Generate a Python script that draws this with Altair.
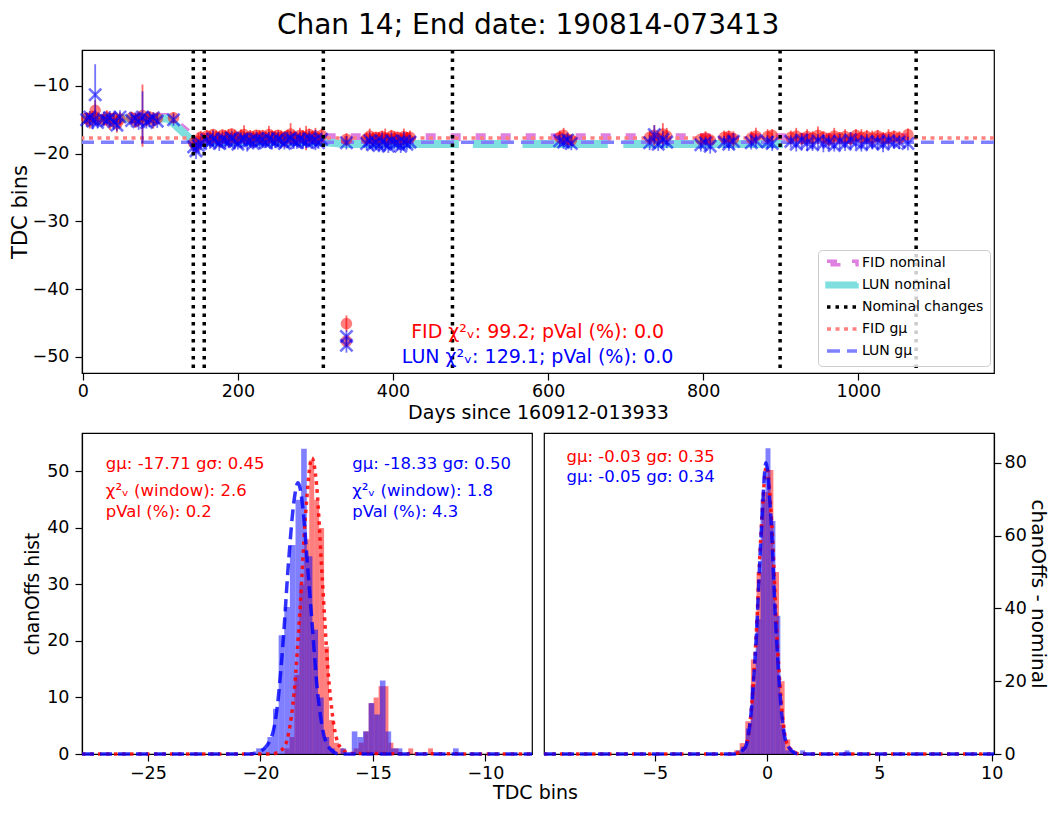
import altair as alt
import pandas as pd

FONT = "DejaVu Sans"

# ------------------------------------------------------------------ top panel data
days = [
    5, 9, 13, 16, 19,
    27, 31, 35, 40, 44, 48,
    63, 68, 72, 77, 82, 86, 91, 96,
    117,
    143, 146, 149, 152,
    160, 164, 168, 172, 176, 180, 184, 188, 192, 196, 200, 204, 208, 212, 216,
    220, 224, 228, 232, 236, 240, 244, 248, 252, 256, 260, 264, 268, 272, 276,
    280, 284, 288, 292, 296, 300, 304, 308,
    340, 340, 340,
    366, 370, 374, 378, 382, 386, 390, 394, 398, 402, 406, 410, 414, 418, 422,
    615, 620, 625, 630,
    731, 737, 742, 748, 753,
    797, 803, 809,
    827, 833, 839,
    862, 868,
    883, 889,
    913, 920, 927, 934, 941, 948, 955, 962, 969, 976, 983, 990, 997, 1004,
    1011, 1018, 1025, 1032, 1039, 1046, 1053,
    1064,
]
fid_vals = [
    -14.8, -15.2, -14.5, -13.6, -14.9,
    -15.0, -14.6, -15.3, -14.8, -15.6, -14.9,
    -14.7, -15.2, -14.9, -14.4, -15.0, -14.6, -15.1, -14.8,
    -14.7,
    -18.4, -18.9, -18.2, -17.6,
    -17.4, -17.8, -17.2, -17.6, -17.9, -17.3, -17.5, -17.7, -17.1, -17.6, -17.8, -17.4, -17.2, -17.7, -17.5,
    -17.9, -17.3, -17.6, -17.4, -17.8, -17.2, -17.5, -17.7, -17.3, -17.6, -17.9, -17.4, -17.1, -17.6, -17.8,
    -17.3, -17.5, -17.7, -17.2, -17.6, -17.4, -17.8, -17.3,
    -17.9, -45.1, -47.7,
    -17.8, -17.4, -17.9, -17.6, -18.0, -17.5, -17.7, -17.9, -17.4, -17.8, -17.6, -18.0, -17.5, -17.7, -17.6,
    -17.6, -17.3, -17.9, -18.0,
    -17.6, -17.3, -17.8, -17.1, -17.4,
    -17.9, -17.7, -18.0,
    -17.6, -17.5, -17.8,
    -17.7, -17.4,
    -17.5, -17.3,
    -17.6, -17.4, -17.8, -17.5, -17.7, -17.3, -17.6, -17.9, -17.4, -17.7, -17.5, -17.8, -17.3, -17.6,
    -17.5, -17.7, -17.4, -17.8, -17.6, -17.5, -17.7,
    -17.2,
]
fid_err = [
    0.9, 1.1, 0.8, 1.5, 1.0,
    0.8, 1.0, 1.2, 0.9, 1.3, 1.0,
    0.9, 1.0, 1.1, 4.6, 1.0, 0.8, 1.2, 0.9,
    0.8,
    1.2, 1.0, 1.3, 0.9,
    0.9, 1.1, 0.8, 1.0, 1.2, 0.9, 1.0, 1.3, 0.8, 1.1, 0.9, 1.0, 1.4, 0.9, 1.0,
    1.2, 0.8, 1.1, 0.9, 1.0, 1.3, 0.9, 1.1, 0.8, 1.0, 1.2, 0.9, 1.6, 1.0, 0.9,
    1.1, 1.0, 1.8, 0.9, 1.0, 1.2, 0.8, 1.0,
    0.9, 1.2, 0.8,
    0.9, 1.1, 1.0, 0.8, 1.2, 0.9, 1.4, 1.0, 0.9, 1.1, 0.8, 1.0, 1.2, 0.9, 1.0,
    1.0, 1.1, 0.9, 0.8,
    1.0, 1.5, 0.9, 1.6, 1.2,
    0.9, 1.0, 0.8,
    1.0, 0.9, 1.1,
    1.0, 1.2,
    1.1, 0.9,
    1.0, 1.2, 0.9, 1.1, 1.0, 1.3, 0.9, 1.0, 1.2, 0.9, 1.1, 1.0, 0.9, 1.2,
    1.0, 1.1, 0.9, 1.0, 1.2, 0.9, 1.0,
    0.9,
]
lun_vals = [
    -15.0, -14.6, -15.2, -11.3, -15.4,
    -14.9, -15.1, -14.7, -15.3, -15.8, -14.6,
    -15.1, -14.8, -15.3, -14.6, -15.4, -15.0, -14.7, -15.2,
    -15.0,
    -19.0, -19.6, -18.8, -18.5,
    -18.0, -18.4, -17.8, -18.2, -18.5, -17.9, -18.1, -18.3, -17.7, -18.2, -18.6, -18.0, -17.8, -18.3, -18.1,
    -18.5, -17.9, -18.2, -18.0, -18.4, -17.8, -18.1, -18.3, -17.9, -18.2, -18.5, -18.0, -17.7, -18.2, -18.4,
    -17.9, -18.1, -18.3, -17.8, -18.2, -18.0, -18.4, -17.9,
    -18.4, -47.0, -48.3,
    -18.5, -18.1, -18.7, -18.3, -18.8, -18.2, -18.6, -18.9, -18.1, -18.5, -18.4, -18.9, -18.2, -18.6, -18.3,
    -18.1, -18.3, -18.0, -18.5,
    -18.4, -17.2, -18.6, -17.9, -18.3,
    -18.7, -18.4, -18.9,
    -18.3, -18.6, -18.2,
    -18.4, -18.1,
    -18.3, -18.5,
    -18.2, -18.6, -18.0, -18.4, -18.7, -18.1, -18.5, -18.3, -18.8, -18.2, -18.6, -18.0, -18.4, -18.7,
    -18.2, -18.5, -18.3, -18.6, -18.1, -18.4, -18.3,
    -18.5,
]
lun_err = [
    1.0, 0.9, 1.2, 4.5, 0.9,
    1.1, 0.8, 1.0, 1.2, 0.9, 1.0,
    1.0, 0.9, 1.2, 3.8, 0.9, 1.1, 0.8, 1.0,
    0.9,
    1.1, 1.2, 0.9, 1.0,
    1.0, 0.9, 1.2, 0.8, 1.1, 1.0, 1.3, 0.9, 1.0, 1.2, 0.8, 1.1, 0.9, 1.4, 1.0,
    0.9, 1.1, 1.0, 1.2, 0.8, 1.0, 1.3, 0.9, 1.1, 1.0, 0.9, 1.2, 1.0, 1.1, 0.9,
    1.0, 1.2, 0.9, 1.1, 1.0, 1.5, 0.9, 1.0,
    1.0, 0.9, 1.1,
    1.0, 1.2, 0.9, 1.1, 1.0, 1.3, 0.9, 1.0, 1.2, 0.9, 1.1, 1.0, 1.4, 0.9, 1.0,
    0.9, 1.0, 1.1, 1.0,
    1.1, 1.4, 1.0, 1.2, 0.9,
    1.0, 0.9, 1.1,
    0.9, 1.0, 1.2,
    1.0, 0.9,
    1.0, 1.1,
    0.9, 1.1, 1.0, 1.2, 0.9, 1.0, 1.3, 1.0, 0.9, 1.1, 1.0, 1.2, 0.9, 1.0,
    1.1, 0.9, 1.0, 1.2, 1.0, 0.9, 1.0,
    1.0,
]
assert len(days) == len(fid_vals) == len(fid_err) == len(lun_vals) == len(lun_err)

nominal_change_days = [142.5, 156.6, 310.2, 476.7, 899.2, 1074.6]
gmu_names = ["FID gμ", "LUN gμ"]
gmu_vals = [-17.71, -18.33]

fid_nom_days = [0, 110, 143, 1064]
fid_nom_vals = [-14.6, -14.6, -17.6, -17.6]
lun_nom_days = [0, 110, 143, 311, 340, 485, 503, 548, 567, 677, 697, 903]
lun_nom_vals = [-14.8, -14.8, -18.3, -18.3, -18.6, -18.6, -18.6, -18.6, -18.6, -18.6, -18.6, -18.6]
lun_nom_seg = [0, 0, 0, 0, 0, 0, 1, 1, 2, 2, 3, 3]

top_texts = ["FID χ²ᵥ: 99.2; pVal (%): 0.0", "LUN χ²ᵥ: 129.1; pVal (%): 0.0"]
top_text_day = [586.5, 586.5]
top_text_val = [-46.3, -50.0]

series_names = ["FID nominal", "LUN nominal", "Nominal changes", "FID gμ", "LUN gμ"]
series_colors = ["#df7fdf", "#7fdfdf", "#000000", "#ff8080", "#8080ff"]
series_dash = [[10, 15], [1, 0], [3.5, 5], [4, 4.5], [13, 7]]

# ------------------------------------------------------------ bottom-left histogram
lun_hist_left = [-20.19, -19.94, -19.69, -19.44, -19.19, -18.94, -18.69, -18.44, -18.19,
                 -17.94, -17.69, -17.44, -17.19, -16.94, -16.44, -15.94, -15.69, -15.44,
                 -15.19, -14.94, -14.69, -14.44, -14.19, -13.94, -11.44]
lun_hist_count = [1, 1, 3, 8, 21, 26, 37, 45, 54, 35, 22, 10, 3, 1, 1, 4, 3, 4, 9, 7, 13, 4, 1, 1, 1]
lun_hist_width = 0.25
fid_hist_left = [-18.93, -18.71, -18.49, -18.27, -18.05, -17.83, -17.61, -17.39, -17.17, -16.95,
                 -16.73, -16.51, -15.85, -15.63, -15.41, -15.19, -14.97, -14.75, -14.53, -14.31,
                 -14.09, -13.43, -12.55]
fid_hist_count = [1, 3, 14, 30, 38, 52, 45, 40, 19, 6, 2, 1, 1, 2, 4, 9, 10, 12, 12, 2, 1, 1, 1]
fid_hist_width = 0.22

lun_fit_x = [-27.93, -20.5, -20.0, -19.5, -19.25, -19.0, -18.75, -18.5, -18.33, -18.1, -17.9,
             -17.7, -17.5, -17.25, -17.0, -16.5, -7.93]
lun_fit_y = [0, 0, 0.5, 3.1, 8.4, 19.4, 34, 45, 48, 43, 33, 23, 12.6, 4.7, 1.4, 0, 0]
fid_fit_x = [-27.93, -19.5, -19.0, -18.75, -18.5, -18.25, -18.0, -17.71, -17.5, -17.25, -17.0,
             -16.75, -16.5, -16.0, -7.93]
fid_fit_y = [0, 0, 0.9, 3.6, 11, 25, 42, 52.4, 47.4, 31, 15, 5.5, 1.5, 0.1, 0]

bl_fid_text = ["gμ: -17.71 gσ: 0.45", "χ²ᵥ (window): 2.6", "pVal (%): 0.2"]
bl_lun_text = ["gμ: -18.33 gσ: 0.50", "χ²ᵥ (window): 1.8", "pVal (%): 4.3"]
bl_text_y = [51.3, 46.6, 42.9]
bl_fid_text_x = -26.87
bl_lun_text_x = -15.92

# ----------------------------------------------------------- bottom-right histogram
lun_diff_left = [-1.39, -1.17, -0.95, -0.73, -0.51, -0.29, -0.07, 0.15, 0.37, 0.59, 0.81, 1.03, 1.47, 3.45]
lun_diff_count = [1, 2, 7, 19, 37, 70, 84, 64, 38, 8, 1, 1, 1, 1]
lun_diff_width = 0.22
fid_diff_left = [-1.47, -1.22, -0.97, -0.72, -0.47, -0.22, 0.03, 0.28, 0.53, 0.78, 1.03]
fid_diff_count = [1, 3, 9, 26, 50, 72, 78, 50, 20, 4, 1]
fid_diff_width = 0.25

lun_dfit_x = [-9.93, -1.5, -1.0, -0.75, -0.5, -0.25, -0.05, 0.15, 0.4, 0.65, 0.9, 1.4, 10.1]
lun_dfit_y = [0, 0, 1.6, 9, 30, 62, 80, 67, 34, 11, 2.4, 0, 0]
fid_dfit_x = [-9.93, -1.5, -1.0, -0.75, -0.5, -0.25, -0.03, 0.2, 0.45, 0.7, 0.95, 1.5, 10.1]
fid_dfit_y = [0, 0, 1.7, 9, 31, 63, 79, 64, 31, 9.5, 2, 0, 0]

br_text = ["gμ: -0.03 gσ: 0.35", "gμ: -0.05 gσ: 0.34"]
br_text_color = ["red", "blue"]
br_text_y = [81.5, 76.1]
br_text_x = -8.93

# ================================================================== top panel
fid_df = pd.DataFrame({"day": days, "val": fid_vals, "err": fid_err})
fid_df["lo"] = fid_df["val"] - fid_df["err"]
fid_df["hi"] = fid_df["val"] + fid_df["err"]
lun_df = pd.DataFrame({"day": days, "val": lun_vals, "err": lun_err})
lun_df["lo"] = lun_df["val"] - lun_df["err"]
lun_df["hi"] = lun_df["val"] + lun_df["err"]
fidnom_df = pd.DataFrame({"day": fid_nom_days, "val": fid_nom_vals, "series": "FID nominal"})
lunnom_df = pd.DataFrame({"day": lun_nom_days, "val": lun_nom_vals, "seg": lun_nom_seg, "series": "LUN nominal"})
vr_df = pd.DataFrame({"day": nominal_change_days, "series": "Nominal changes"})
gmu_df = pd.DataFrame({"val": gmu_vals, "series": gmu_names})
ttext_df = pd.DataFrame({"day": top_text_day, "val": top_text_val, "t": top_texts,
                         "c": ["red", "blue"]})

xscale_top = alt.Scale(domain=[-1, 1175], nice=False, zero=False)
yscale_top = alt.Scale(domain=[-52.4, -4.7], nice=False, zero=False)
xaxis_top = alt.Axis(values=[0, 200, 400, 600, 800, 1000], format="d", title="Days since 160912-013933",
                     titleFontSize=19, labelPadding=2, titlePadding=4)
yaxis_top = alt.Axis(values=[-10, -20, -30, -40, -50], title="TDC bins", titleFontSize=21,
                     labelPadding=6, titlePadding=2)


def XT(f):
    return alt.X(f, type="quantitative", scale=xscale_top, axis=xaxis_top)


def YT(f):
    return alt.Y(f, type="quantitative", scale=yscale_top, axis=yaxis_top)


BAR_PATH = "M-5,-0.58H5V0.58H-5Z"
LINE_PATH = "M-5,0H5M-5,-0.58L-5,-0.58M-5,0.58L-5,0.58"
legend = alt.Legend(
    title=None, orient="none", legendX=736, legendY=200, symbolSize=36,
    symbolType=alt.ExprRef(
        "datum.value == 'FID nominal' || datum.value == 'LUN nominal' ? '%s' : '%s'" % (BAR_PATH, LINE_PATH)),
    symbolOffset=11, labelOffset=13, symbolStrokeWidth=3.5,
    labelFontSize=14, labelFont=FONT, labelColor="black", fillColor="rgba(255,255,255,0.8)",
    strokeColor="#cccccc", cornerRadius=4, padding=6, rowPadding=4,
    symbolOpacity=1,
)
COLOR = alt.Color("series:N", scale=alt.Scale(domain=series_names, range=series_colors), legend=legend)
DASH = alt.StrokeDash("series:N", scale=alt.Scale(domain=series_names, range=series_dash), legend=legend)

l_fidnom = alt.Chart(fidnom_df).mark_line(strokeWidth=8).encode(
    x=XT("day"), y=YT("val"), color=COLOR, strokeDash=DASH)
l_lunnom = alt.Chart(lunnom_df).mark_line(strokeWidth=8).encode(
    x=XT("day"), y=YT("val"), detail="seg:N", color=COLOR, strokeDash=DASH)
l_gmu = alt.Chart(gmu_df).mark_rule(strokeWidth=3.5).encode(
    y=YT("val"), color=COLOR, strokeDash=DASH)
l_vr = alt.Chart(vr_df).mark_rule(strokeWidth=3.5).encode(
    x=XT("day"), color=COLOR, strokeDash=DASH)

l_fid_err = alt.Chart(fid_df).mark_rule(color="red", opacity=0.6, strokeWidth=1.8).encode(
    x=XT("day"), y=YT("lo"), y2="hi")
l_fid_pt = alt.Chart(fid_df).mark_point(shape="circle", filled=True, color="red", opacity=0.5,
                                        size=135, strokeWidth=0).encode(x=XT("day"), y=YT("val"))
l_lun_err = alt.Chart(lun_df).mark_rule(color="blue", opacity=0.55, strokeWidth=1.8).encode(
    x=XT("day"), y=YT("lo"), y2="hi")
l_lun_pt = alt.Chart(lun_df).mark_point(shape="M-1,-1L1,1M-1,1L1,-1", filled=False, color="blue",
                                        opacity=0.55, size=150, strokeWidth=2.6).encode(
    x=XT("day"), y=YT("val"))
l_ttext = alt.Chart(ttext_df).mark_text(fontSize=19, align="center", baseline="middle", font=FONT).encode(
    x=XT("day"), y=YT("val"), text="t:N", color=alt.Color("c:N", scale=None))

top = alt.layer(l_fidnom, l_lunnom, l_gmu, l_fid_err, l_fid_pt, l_lun_err, l_lun_pt, l_vr, l_ttext
                ).properties(width=912, height=323)

# ================================================================== bottom-left
xscale_bl = alt.Scale(domain=[-27.93, -7.93], nice=False, zero=False)
yscale_bl = alt.Scale(domain=[0, 56.8], nice=False, zero=False)
xaxis_bl = alt.Axis(values=[-25, -20, -15, -10], title=None, labelPadding=3)
yaxis_bl = alt.Axis(values=[0, 10, 20, 30, 40, 50], title="chanOffs hist", titleFontSize=18.7,
                    labelPadding=6, titlePadding=4)


def XBL(f):
    return alt.X(f, type="quantitative", scale=xscale_bl, axis=xaxis_bl)


def YBL(f):
    return alt.Y(f, type="quantitative", scale=yscale_bl, axis=yaxis_bl)


fh = pd.DataFrame({"l": fid_hist_left, "c": fid_hist_count})
fh["r"] = fh["l"] + fid_hist_width
fh["z"] = 0
lh = pd.DataFrame({"l": lun_hist_left, "c": lun_hist_count})
lh["r"] = lh["l"] + lun_hist_width
lh["z"] = 0
ff = pd.DataFrame({"x": fid_fit_x, "y": fid_fit_y})
lf = pd.DataFrame({"x": lun_fit_x, "y": lun_fit_y})
tf = pd.DataFrame({"x": bl_fid_text_x, "y": bl_text_y, "t": bl_fid_text})
tl = pd.DataFrame({"x": bl_lun_text_x, "y": bl_text_y, "t": bl_lun_text})

bl = alt.layer(
    alt.Chart(fh).mark_rect(color="red", opacity=0.5).encode(x=XBL("l"), x2="r", y=YBL("c"), y2="z"),
    alt.Chart(lh).mark_rect(color="blue", opacity=0.5).encode(x=XBL("l"), x2="r", y=YBL("c"), y2="z"),
    alt.Chart(ff).mark_line(color="red", opacity=0.85, strokeWidth=3.5, strokeDash=[3.5, 4.5],
                            interpolate="monotone").encode(x=XBL("x"), y=YBL("y")),
    alt.Chart(lf).mark_line(color="blue", opacity=0.8, strokeWidth=3.5, strokeDash=[12, 6],
                            interpolate="monotone").encode(x=XBL("x"), y=YBL("y")),
    alt.Chart(tf).mark_text(color="red", fontSize=16.5, align="left", baseline="middle", font=FONT).encode(
        x=XBL("x"), y=YBL("y"), text="t:N"),
    alt.Chart(tl).mark_text(color="blue", fontSize=16.5, align="left", baseline="middle", font=FONT).encode(
        x=XBL("x"), y=YBL("y"), text="t:N"),
).properties(width=450, height=321)

# ================================================================== bottom-right
xscale_br = alt.Scale(domain=[-9.93, 10.1], nice=False, zero=False)
yscale_br = alt.Scale(domain=[0, 88.2], nice=False, zero=False)
xaxis_br = alt.Axis(values=[-5, 0, 5, 10], title=None, labelPadding=3)
yaxis_br = alt.Axis(values=[0, 20, 40, 60, 80], orient="right", title="chanOffs - nominal",
                    titleFontSize=20, labelPadding=3, titlePadding=1)


def XBR(f):
    return alt.X(f, type="quantitative", scale=xscale_br, axis=xaxis_br)


def YBR(f):
    return alt.Y(f, type="quantitative", scale=yscale_br, axis=yaxis_br)


fd = pd.DataFrame({"l": fid_diff_left, "c": fid_diff_count})
fd["r"] = fd["l"] + fid_diff_width
fd["z"] = 0
ld = pd.DataFrame({"l": lun_diff_left, "c": lun_diff_count})
ld["r"] = ld["l"] + lun_diff_width
ld["z"] = 0
fdf = pd.DataFrame({"x": fid_dfit_x, "y": fid_dfit_y})
ldf = pd.DataFrame({"x": lun_dfit_x, "y": lun_dfit_y})
trf = pd.DataFrame({"x": br_text_x, "y": br_text_y, "t": br_text, "c": br_text_color})

br = alt.layer(
    alt.Chart(fd).mark_rect(color="red", opacity=0.5).encode(x=XBR("l"), x2="r", y=YBR("c"), y2="z"),
    alt.Chart(ld).mark_rect(color="blue", opacity=0.5).encode(x=XBR("l"), x2="r", y=YBR("c"), y2="z"),
    alt.Chart(fdf).mark_line(color="red", opacity=0.85, strokeWidth=3.5, strokeDash=[3.5, 4.5],
                             interpolate="monotone").encode(x=XBR("x"), y=YBR("y")),
    alt.Chart(ldf).mark_line(color="blue", opacity=0.8, strokeWidth=3.5, strokeDash=[12, 6],
                             interpolate="monotone").encode(x=XBR("x"), y=YBR("y")),
    alt.Chart(trf).mark_text(fontSize=16.5, align="left", baseline="middle", font=FONT).encode(
        x=XBR("x"), y=YBR("y"), text="t:N", color=alt.Color("c:N", scale=None)),
).properties(width=450, height=321)

bottom = alt.hconcat(bl, br, spacing=12, bounds="flush").properties(
    title=alt.TitleParams("TDC bins", orient="bottom", anchor="middle", fontSize=19,
                          fontWeight="normal", font=FONT, offset=2))

chart = alt.vconcat(top, bottom, spacing=60, bounds="flush").properties(
    title=alt.TitleParams("Chan 14; End date: 190814-073413", anchor="middle", fontSize=28,
                          fontWeight="normal", font=FONT, offset=8),
    padding={"left": 0, "top": 3, "right": 4, "bottom": 0},
).configure(
    font=FONT
).configure_view(
    stroke="black", strokeWidth=1.2
).configure_axis(
    grid=False, domainColor="black", domainWidth=1.2, tickColor="black", tickWidth=1.2, tickSize=7,
    labelColor="black", labelFontSize=17.5, labelFont=FONT, titleFont=FONT, titleFontWeight="normal",
    titleColor="black", labelFlush=False, labelOverlap=False
).configure_title(font=FONT, fontWeight="normal", color="black")

chart.save("out.html", embed_options={"renderer": "svg", "actions": False})
